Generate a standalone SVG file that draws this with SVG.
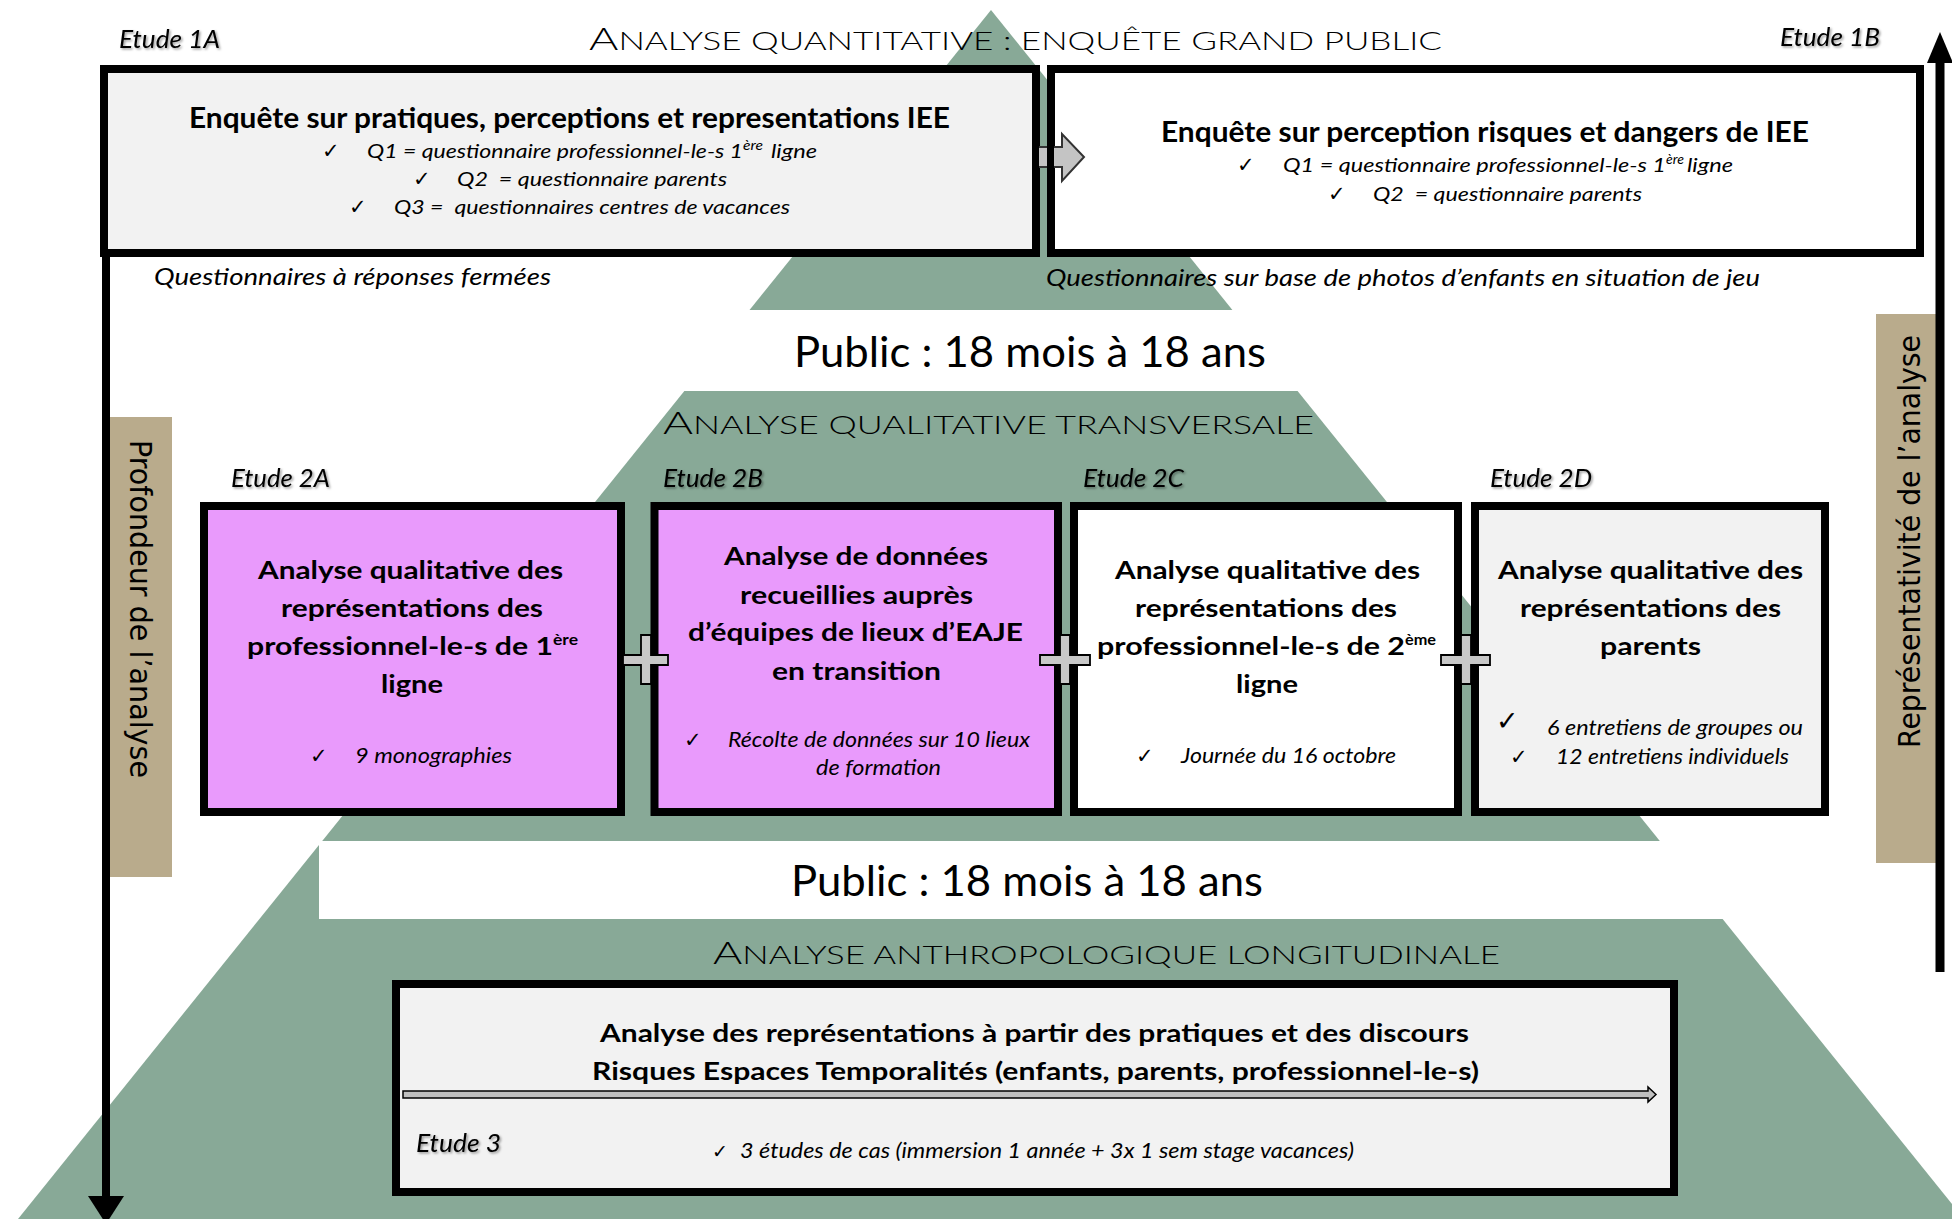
<svg xmlns="http://www.w3.org/2000/svg" width="1952" height="1219" viewBox="0 0 1952 1219">
<defs>
<style>
.t{font-family:Lato,"Open Sans","Noto Sans",sans-serif;fill:#000}
.b{font-weight:700}
.i{font-style:italic}
.lt{font-weight:300}
.ck{font-family:"DejaVu Sans",sans-serif;fill:#000;font-size:21px}
.box{stroke:#000;stroke-width:8}
.et{filter:url(#sh);font-size:25px}
.vl{font-family:"DejaVu Sans",sans-serif;fill:#000;font-size:31px}
.h1{font-size:28px}
.h2{font-size:25px}
.q{font-size:20px}
.bl{font-size:20.5px}
.cap{font-size:24px}
.sc{font-size:25px}
.scb{font-size:32px}
</style>
<filter id="sh" x="-10%" y="-30%" width="130%" height="170%">
<feDropShadow dx="1.5" dy="1.5" stdDeviation="0.8" flood-color="#000" flood-opacity="0.4"/>
</filter>
</defs>
<rect width="1952" height="1219" fill="#fff"/>
<g id="background">
<polygon points="991,10 18,1219 1964,1219" fill="#88a997"/>
<rect x="0" y="310" width="1952" height="81" fill="#fff"/>
<rect x="319" y="841" width="1633" height="78" fill="#fff"/>
</g>

<g id="titles">
<text class="t lt" x="589" y="50" textLength="853" lengthAdjust="spacingAndGlyphs"><tspan class="scb">A</tspan><tspan class="sc">NALYSE QUANTITATIVE : ENQUÊTE GRAND PUBLIC</tspan></text>
<text class="t" x="794" y="367" textLength="472" lengthAdjust="spacingAndGlyphs" style="font-size:42px">Public : 18 mois à 18 ans</text>
<text class="t lt" x="663" y="434" textLength="651" lengthAdjust="spacingAndGlyphs"><tspan class="scb">A</tspan><tspan class="sc">NALYSE QUALITATIVE TRANSVERSALE</tspan></text>
<text class="t" x="791" y="896" textLength="472" lengthAdjust="spacingAndGlyphs" style="font-size:42px">Public : 18 mois à 18 ans</text>
<text class="t lt" x="713" y="964" textLength="787" lengthAdjust="spacingAndGlyphs"><tspan class="scb">A</tspan><tspan class="sc">NALYSE ANTHROPOLOGIQUE LONGITUDINALE</tspan></text>
</g>

<g id="axis-left">
<rect x="108" y="417" width="64" height="460" fill="#b9ab8c"/>
<text class="vl" transform="translate(130,440) rotate(90)" textLength="338" lengthAdjust="spacingAndGlyphs">Profondeur de l’analyse</text>
</g>
<g id="axis-right">
<rect x="1876" y="314" width="63" height="549" fill="#b9ab8c"/>
<text class="vl" transform="translate(1920,748) rotate(-90)" textLength="413" lengthAdjust="spacingAndGlyphs">Représentativité de l’analyse</text>
</g>

<g id="etude1A">
<text class="t i et" x="119" y="48" textLength="101" lengthAdjust="spacingAndGlyphs">Etude 1A</text>
<rect class="box" x="104" y="69" width="932" height="184" fill="#f2f2f2"/>
<text class="t b h1" x="189" y="128" textLength="761" lengthAdjust="spacingAndGlyphs">Enquête sur pratiques, perceptions et representations IEE</text>
<text class="ck" x="322" y="158">✓</text>
<text class="t i q" x="367" y="158" textLength="376" lengthAdjust="spacingAndGlyphs">Q1 = questionnaire professionnel-le-s 1</text>
<text class="t i" x="743" y="150" style="font-size:13px" textLength="20" lengthAdjust="spacingAndGlyphs">ère</text>
<text class="t i q" x="771" y="158" textLength="46" lengthAdjust="spacingAndGlyphs">ligne</text>
<text class="ck" x="413" y="186">✓</text>
<text class="t i q" x="457" y="186" textLength="270" lengthAdjust="spacingAndGlyphs" xml:space="preserve">Q2  = questionnaire parents</text>
<text class="ck" x="349" y="214">✓</text>
<text class="t i q" x="394" y="214" textLength="396" lengthAdjust="spacingAndGlyphs" xml:space="preserve">Q3 =  questionnaires centres de vacances</text>
<text class="t i cap" x="154" y="285" textLength="397" lengthAdjust="spacingAndGlyphs">Questionnaires à réponses fermées</text>
</g>

<g id="etude1B">
<text class="t i et" x="1780" y="46" textLength="100" lengthAdjust="spacingAndGlyphs">Etude 1B</text>
<rect class="box" x="1051" y="69" width="869" height="184" fill="#fff"/>
<text class="t b h1" x="1161" y="142" textLength="648" lengthAdjust="spacingAndGlyphs">Enquête sur perception risques et dangers de IEE</text>
<text class="ck" x="1237" y="172">✓</text>
<text class="t i q" x="1283" y="172" textLength="383" lengthAdjust="spacingAndGlyphs">Q1 = questionnaire professionnel-le-s 1</text>
<text class="t i" x="1666" y="164" style="font-size:13px" textLength="18" lengthAdjust="spacingAndGlyphs">ère</text>
<text class="t i q" x="1687" y="172" textLength="46" lengthAdjust="spacingAndGlyphs">ligne</text>
<text class="ck" x="1328" y="201">✓</text>
<text class="t i q" x="1373" y="201" textLength="269" lengthAdjust="spacingAndGlyphs" xml:space="preserve">Q2  = questionnaire parents</text>
<text class="t i cap" x="1046" y="286" textLength="714" lengthAdjust="spacingAndGlyphs">Questionnaires sur base de photos d’enfants en situation de jeu</text>
</g>

<g id="etude2A">
<text class="t i et" x="231" y="487" textLength="99" lengthAdjust="spacingAndGlyphs">Etude 2A</text>
<rect class="box" x="204" y="506" width="417" height="306" fill="#e99afc"/>
<text class="t b h2" x="258" y="579" textLength="305" lengthAdjust="spacingAndGlyphs">Analyse qualitative des</text>
<text class="t b h2" x="281" y="617" textLength="262" lengthAdjust="spacingAndGlyphs">représentations des</text>
<text class="t b h2" x="247" y="655" textLength="306" lengthAdjust="spacingAndGlyphs">professionnel-le-s de 1</text>
<text class="t b" x="553" y="645" style="font-size:16px" textLength="25" lengthAdjust="spacingAndGlyphs">ère</text>
<text class="t b h2" x="381" y="693" textLength="62" lengthAdjust="spacingAndGlyphs">ligne</text>
<text class="ck" x="310" y="763">✓</text>
<text class="t i bl" x="355" y="763" textLength="157" lengthAdjust="spacingAndGlyphs">9 monographies</text>
</g>

<g id="etude2B">
<text class="t i et" x="663" y="487" textLength="100" lengthAdjust="spacingAndGlyphs">Etude 2B</text>
<rect class="box" x="654.5" y="506" width="403.5" height="306" fill="#e99afc"/>
<text class="t b h2" x="724" y="565" textLength="264" lengthAdjust="spacingAndGlyphs">Analyse de données</text>
<text class="t b h2" x="740" y="604" textLength="233" lengthAdjust="spacingAndGlyphs">recueillies auprès</text>
<text class="t b h2" x="688" y="641" textLength="335" lengthAdjust="spacingAndGlyphs">d’équipes de lieux d’EAJE</text>
<text class="t b h2" x="772" y="680" textLength="169" lengthAdjust="spacingAndGlyphs">en transition</text>
<text class="ck" x="684" y="747">✓</text>
<text class="t i bl" x="728" y="747" textLength="302" lengthAdjust="spacingAndGlyphs">Récolte de données sur 10 lieux</text>
<text class="t i bl" x="816" y="775" textLength="125" lengthAdjust="spacingAndGlyphs">de formation</text>
</g>

<g id="etude2C">
<text class="t i et" x="1083" y="487" textLength="101" lengthAdjust="spacingAndGlyphs">Etude 2C</text>
<rect class="box" x="1074" y="506" width="384" height="306" fill="#fff"/>
<text class="t b h2" x="1115" y="579" textLength="305" lengthAdjust="spacingAndGlyphs">Analyse qualitative des</text>
<text class="t b h2" x="1135" y="617" textLength="262" lengthAdjust="spacingAndGlyphs">représentations des</text>
<text class="t b h2" x="1097" y="655" textLength="308" lengthAdjust="spacingAndGlyphs">professionnel-le-s de 2</text>
<text class="t b" x="1405" y="645" style="font-size:16px" textLength="31" lengthAdjust="spacingAndGlyphs">ème</text>
<text class="t b h2" x="1236" y="693" textLength="62" lengthAdjust="spacingAndGlyphs">ligne</text>
<text class="ck" x="1136" y="763">✓</text>
<text class="t i bl" x="1181" y="763" textLength="215" lengthAdjust="spacingAndGlyphs">Journée du 16 octobre</text>
</g>

<g id="etude2D">
<text class="t i et" x="1490" y="487" textLength="102" lengthAdjust="spacingAndGlyphs">Etude 2D</text>
<rect class="box" x="1475" y="506" width="350" height="306" fill="#f2f2f2"/>
<text class="t b h2" x="1498" y="579" textLength="305" lengthAdjust="spacingAndGlyphs">Analyse qualitative des</text>
<text class="t b h2" x="1520" y="617" textLength="261" lengthAdjust="spacingAndGlyphs">représentations des</text>
<text class="t b h2" x="1600" y="655" textLength="101" lengthAdjust="spacingAndGlyphs">parents</text>
<text class="ck" x="1496" y="730" style="font-size:27px">✓</text>
<text class="t i bl" x="1547" y="735" textLength="256" lengthAdjust="spacingAndGlyphs">6 entretiens de groupes ou</text>
<text class="ck" x="1510" y="764">✓</text>
<text class="t i bl" x="1556" y="764" textLength="233" lengthAdjust="spacingAndGlyphs">12 entretiens individuels</text>
</g>

<g id="etude3">
<rect class="box" x="396" y="984" width="1278" height="208" fill="#f2f2f2"/>
<text class="t b h2" x="600" y="1042" textLength="869" lengthAdjust="spacingAndGlyphs">Analyse des représentations à partir des pratiques et des discours</text>
<text class="t b h2" x="592" y="1080" textLength="887" lengthAdjust="spacingAndGlyphs">Risques Espaces Temporalités (enfants, parents, professionnel-le-s)</text>
<text class="t i et" x="416" y="1152" textLength="85" lengthAdjust="spacingAndGlyphs">Etude 3</text>
<text class="ck" x="712" y="1158" style="font-size:19px">✓</text>
<text class="t i bl" x="740" y="1158" textLength="614" lengthAdjust="spacingAndGlyphs">3 études de cas (immersion 1 année + 3x 1 sem stage vacances)</text>
</g>

<g id="connectors">
<polygon points="1033,147 1062,147 1062,134 1084,157 1062,181 1062,167 1033,167" fill="#c4c4c4" stroke="#333" stroke-width="2"/>
<rect x="1032" y="146" width="7" height="22" fill="#000"/>
<rect x="1047" y="146" width="7" height="22" fill="#000"/>
<path d="M641,635 h10 v20 h17 v10 h-17 v19 h-10 v-19 h-18 v-10 h18 z" fill="#c8c8c8" stroke="#000" stroke-width="1.8"/>
<path d="M1060,635 h10 v20 h20 v10 h-20 v19 h-10 v-19 h-20 v-10 h20 z" fill="#c8c8c8" stroke="#000" stroke-width="1.8"/>
<path d="M1461,635 h10 v20 h19 v10 h-19 v19 h-10 v-19 h-20 v-10 h20 z" fill="#c8c8c8" stroke="#000" stroke-width="1.8"/>
<polygon points="403,1091 1648,1091 1648,1087 1656,1094.5 1648,1102 1648,1098 403,1098" fill="#bfbfbf" stroke="#000" stroke-width="1.5"/>
<line x1="106" y1="253" x2="106" y2="1198" stroke="#000" stroke-width="8"/>
<polygon points="88,1196 124,1196 106,1224" fill="#000"/>
<line x1="1940" y1="972" x2="1940" y2="60" stroke="#000" stroke-width="9"/>
<polygon points="1927,63 1953,63 1940,32" fill="#000"/>
</g>
</svg>
